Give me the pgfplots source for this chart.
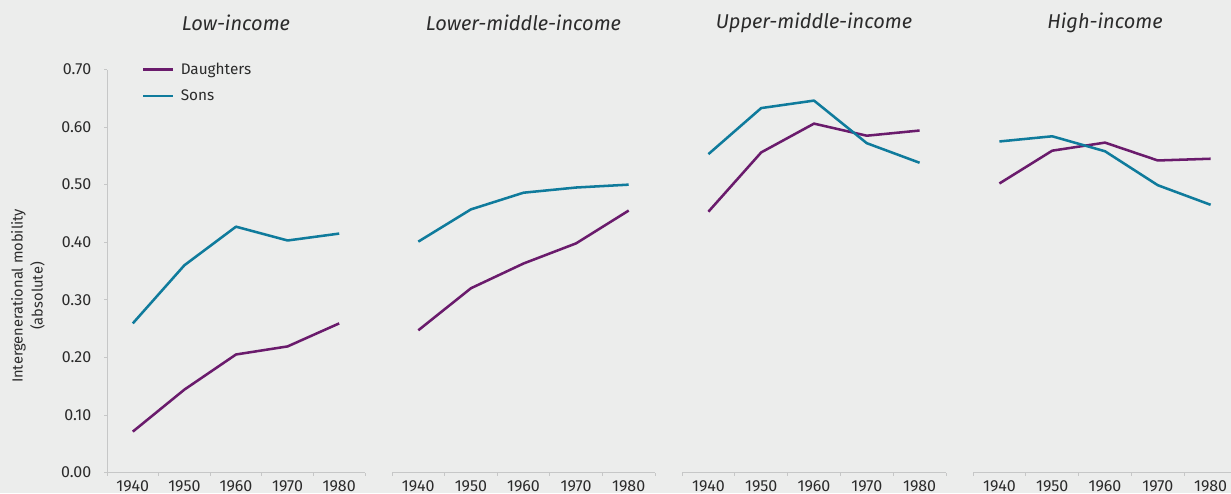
\documentclass[border=0pt]{standalone}
\usepackage{fontspec}
\setmainfont{Fira Sans}
\usepackage{pgfplots}
\pgfplotsset{compat=1.18}
\definecolor{bg}{HTML}{ECEDEC}
\definecolor{dau}{HTML}{6A1B6C}
\definecolor{son}{HTML}{0F7B9C}
\definecolor{axl}{HTML}{C6C7C7}
\definecolor{txt}{HTML}{2B2B2B}
\def\u{0.75pt}

\pgfplotsset{
  panel/.style={
    scale only axis, anchor=south west,
    height=403*\u,
    xmin=0.5, xmax=5.5, ymin=0, ymax=0.7,
    axis x line*=bottom,
    xtick={0.5,1.5,...,5.5},
    xticklabels={1940,1950,1960,1970,1980},
    x tick label as interval,
    tick align=outside, major tick length=3*\u,
    every tick/.style={axl, line width=0.6pt},
    axis line style={axl, line width=0.6pt},
    tick label style={font=\fontsize{12}{14}\selectfont, text=txt},
    /pgf/number format/assume math mode=true,
    title style={font=\itshape\fontsize{15}{17}\selectfont, text=txt,
      at={(0.5,1)}, anchor=center, yshift=39*\u},
    clip=false,
  },
  dline/.style={dau, line width=1.9pt, line join=round},
  sline/.style={son, line width=1.9pt, line join=round},
}

\begin{document}
\begin{tikzpicture}
\fill[bg] (0,0) rectangle (1231*\u,493*\u);
\useasboundingbox (0,0) rectangle (1231*\u,493*\u);

\node[rotate=90, align=center, font=\fontsize{11}{15}\selectfont, text=txt]
  at (28*\u, 197*\u) {Intergenerational mobility\\(absolute)};

% Low-income
\begin{axis}[panel, at={(107*\u,20.5*\u)}, width=258*\u,
  title={Low-income},
  axis y line*=left,
  ytick={0,0.1,...,0.7},
  yticklabel style={xshift=-8*\u, /pgf/number format/.cd, fixed, fixed zerofill, precision=2},
  legend style={at={(0.12,1.03)}, anchor=north west, draw=none, fill=none,
    font=\fontsize{11.5}{13}\selectfont, text=txt, row sep=6pt},
  legend cell align=left,
  legend image code/.code={\draw[#1] (0pt,0pt) -- (22pt,0pt);},
]
\addplot[dline] coordinates {(1,0.071)(2,0.144)(3,0.205)(4,0.219)(5,0.259)};
\addlegendentry{\hspace{3pt}Daughters}
\addplot[sline] coordinates {(1,0.259)(2,0.360)(3,0.427)(4,0.403)(5,0.415)};
\addlegendentry{\hspace{3pt}Sons}
\end{axis}

% Lower-middle-income
\begin{axis}[panel, at={(392*\u,20.5*\u)}, width=263*\u,
  title={Lower-middle-income}, axis y line=none, ytick=\empty]
\addplot[dline] coordinates {(1,0.247)(2,0.320)(3,0.363)(4,0.398)(5,0.455)};
\addplot[sline] coordinates {(1,0.401)(2,0.457)(3,0.486)(4,0.495)(5,0.500)};
\end{axis}

% Upper-middle-income
\begin{axis}[panel, at={(682*\u,20.5*\u)}, width=264*\u,
  title={Upper-middle-income}, axis y line=none, ytick=\empty]
\addplot[dline] coordinates {(1,0.453)(2,0.556)(3,0.606)(4,0.585)(5,0.594)};
\addplot[sline] coordinates {(1,0.553)(2,0.633)(3,0.646)(4,0.572)(5,0.538)};
\end{axis}

% High-income
\begin{axis}[panel, at={(973*\u,20.5*\u)}, width=264*\u,
  title={High-income}, axis y line=none, ytick=\empty]
\addplot[dline] coordinates {(1,0.502)(2,0.559)(3,0.573)(4,0.542)(5,0.545)};
\addplot[sline] coordinates {(1,0.575)(2,0.584)(3,0.558)(4,0.499)(5,0.465)};
\end{axis}
\end{tikzpicture}
\end{document}
